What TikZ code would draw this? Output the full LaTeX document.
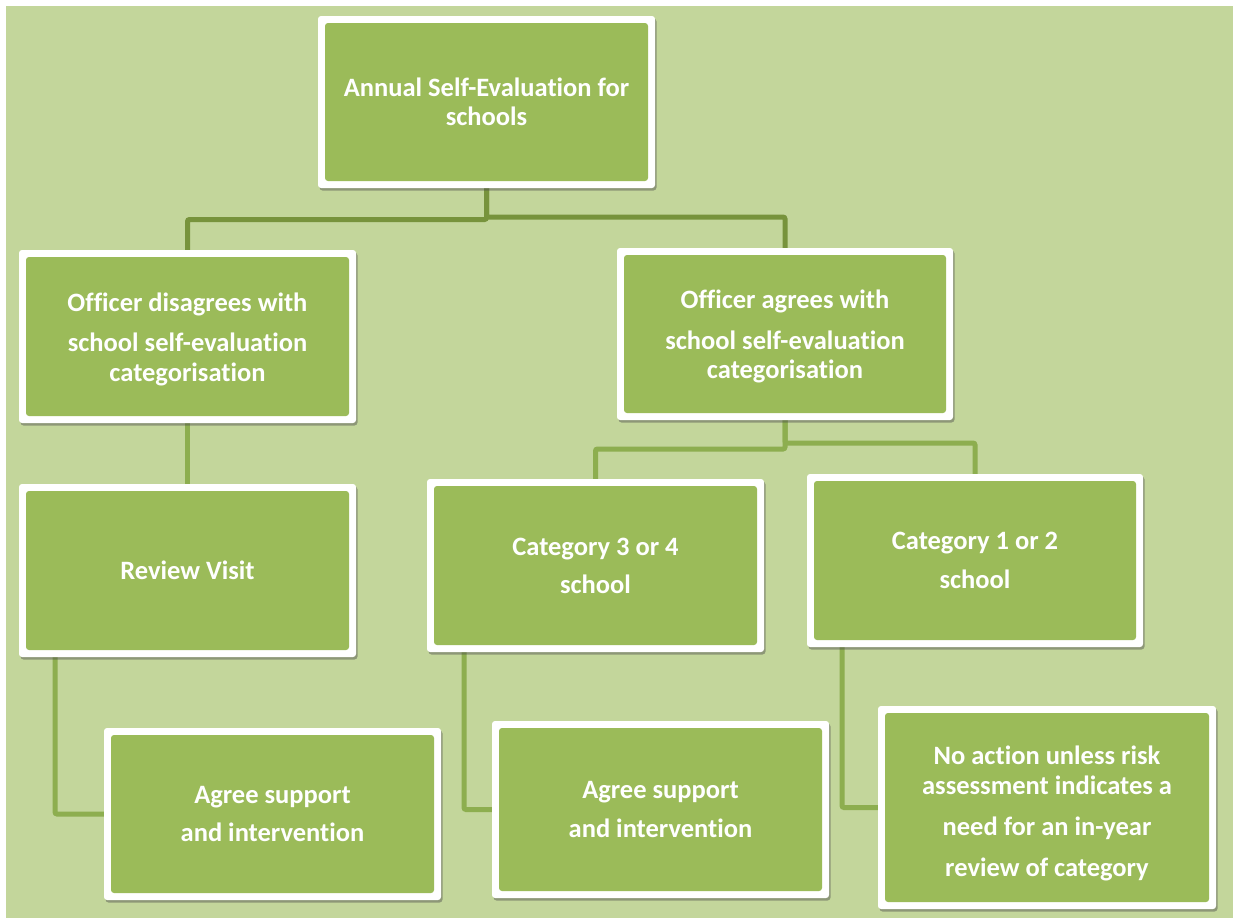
\documentclass[tikz,border=0pt]{standalone}
\usepackage{fontspec}
\setmainfont{Carlito}[RawFeature={-liga;-clig;-dlig;-calt}]
\usetikzlibrary{shadows,backgrounds}
\definecolor{bgreen}{HTML}{C3D69B}
\definecolor{boxgreen}{HTML}{9BBB59}
\definecolor{connA}{HTML}{77933C}
\definecolor{connB}{HTML}{8DAE4F}
\tikzset{
  box/.style={rectangle, rounded corners=3pt, fill=white, inner sep=0pt, outer sep=0pt,
    align=center, text=white, font=\fontsize{26.5}{29.5}\selectfont\bfseries,
    drop shadow={shadow xshift=1.5pt, shadow yshift=-2.5pt, opacity=0.45, fill=black!70},
    path picture={\fill[boxgreen] ([shift={(7pt,-7pt)}]path picture bounding box.north west)
      rectangle ([shift={(-7pt,7pt)}]path picture bounding box.south east);}},
  linkA/.style={draw=connA, line width=5pt, rounded corners=2pt},
  linkB/.style={draw=connB, line width=5pt, rounded corners=2pt}
}
\begin{document}
\begin{tikzpicture}[x=1pt,y=-1pt]
\useasboundingbox (0,0) rectangle (1239,919);

\path
  node[box, minimum width=337pt, minimum height=172pt] (A) at (486.5,102) {Annual Self-Evaluation for\\schools}
  node[box, minimum width=337pt, minimum height=173pt] (B) at (187.5,336.5) {\rule{0pt}{24pt}Officer disagrees with\\[11pt]school self-evaluation\\categorisation}
  node[box, minimum width=336pt, minimum height=172pt] (C) at (785,334) {\rule{0pt}{24pt}Officer agrees with\\[11pt]school self-evaluation\\categorisation}
  node[box, minimum width=337pt, minimum height=173pt] (D) at (187.5,570.5) {Review Visit}
  node[box, minimum width=337pt, minimum height=173pt] (E) at (595.5,565.5) {Category 3 or 4\\[8.5pt]school}
  node[box, minimum width=336pt, minimum height=173pt] (F) at (975,560.5) {Category 1 or 2\\[9.5pt]school}
  node[box, minimum width=337pt, minimum height=172pt] (G) at (272.5,814) {Agree support\\[9pt]and intervention}
  node[box, minimum width=337pt, minimum height=177pt] (H) at (660.5,809.5) {Agree support\\[9.5pt]and intervention}
  node[box, minimum width=338pt, minimum height=203pt] (I) at (1047,807.5) {\rule{0pt}{30pt}No action unless risk\\assessment indicates a\\[11.5pt]need for an in-year\\[11.5pt]review of category};

\begin{pgfonlayer}{background}
\fill[white] (0,0) rectangle (1239,919);
\fill[bgreen] (6,6) rectangle (1233,918);
\draw[linkA] (A.south) -- ++(0,31.5) -| (B.north);
\draw[linkA] (A.south) -- ++(0,29) -| (C.north);
\draw[linkB] (B.south) -- (D.north);
\draw[linkB] (C.south) -- ++(0,29) -| (E.north);
\draw[linkB] (C.south) -- ++(0,23) -| (F.north);
\draw[linkB] ([xshift=-132.5pt]D.south) |- (G.west);
\draw[linkB] ([xshift=-131.5pt]E.south) |- (H.west);
\draw[linkB] ([xshift=-133pt]F.south) |- (I.west);
\end{pgfonlayer}
\end{tikzpicture}
\end{document}
